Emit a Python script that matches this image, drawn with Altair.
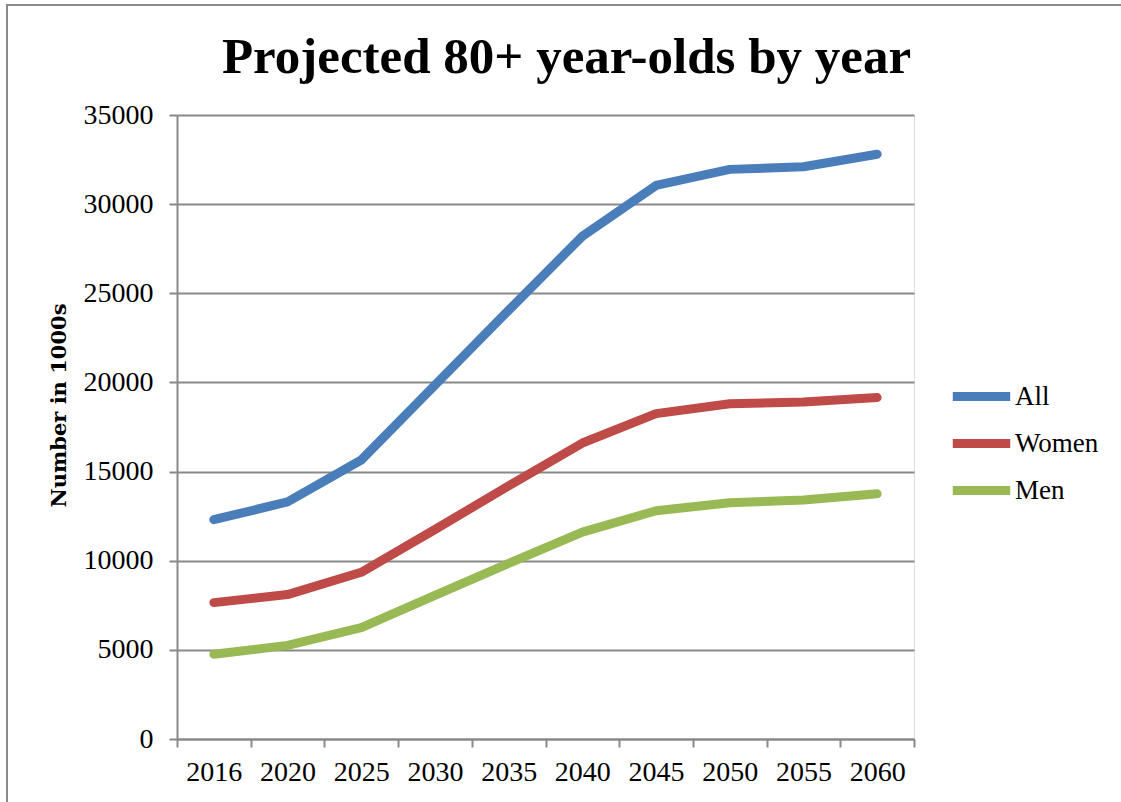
import altair as alt
import pandas as pd

years = ["2016", "2020", "2025", "2030", "2035", "2040", "2045", "2050", "2055", "2060"]
all_values = [12300, 13300, 15650, 19850, 24050, 28200, 31050, 31950, 32100, 32800]
women_values = [7650, 8100, 9350, 11750, 14200, 16600, 18250, 18800, 18900, 19150]
men_values = [4750, 5250, 6250, 8050, 9850, 11600, 12800, 13250, 13400, 13750]
series_names = ["All", "Women", "Men"]
series_colors = ["#4A7EBB", "#BE4B48", "#98B954"]
y_ticks = [0, 5000, 10000, 15000, 20000, 25000, 30000, 35000]

rows = []
for name, vals in zip(series_names, [all_values, women_values, men_values]):
    for yr, v in zip(years, vals):
        rows.append({"year": yr, "value": v, "series": name})
df = pd.DataFrame(rows)

GRID = "#898989"
SERIF = "Liberation Serif"

lines = alt.Chart(df).mark_line(strokeWidth=9, strokeCap="round", strokeJoin="round").encode(
    x=alt.X(
        "year:O",
        sort=years,
        bandPosition=0.5,
        scale=alt.Scale(type="band", paddingInner=0, paddingOuter=0),
        axis=alt.Axis(
            title=None,
            tickBand="extent",
            labelAngle=0,
            labelFont=SERIF,
            labelFontSize=28,
            labelColor="black",
            labelPadding=11,
            tickSize=8,
            tickColor=GRID,
            tickWidth=2,
            domainColor=GRID,
            domainWidth=2,
            grid=False,
        ),
    ),
    y=alt.Y(
        "value:Q",
        scale=alt.Scale(domain=[0, 35000], nice=False),
        axis=alt.Axis(
            title="Number in 1000s",
            titleFont="DejaVu Serif",
            titleFontSize=21,
            titleFontWeight="bold",
            titleColor="black",
            titlePadding=14,
            titleY=290,
            values=y_ticks,
            format="d",
            labelFont=SERIF,
            labelFontSize=28,
            labelColor="black",
            labelPadding=16,
            tickSize=8,
            tickColor=GRID,
            tickWidth=2,
            domainColor=GRID,
            domainWidth=2,
            grid=True,
            gridColor=GRID,
            gridWidth=2,
        ),
    ),
    color=alt.Color(
        "series:N",
        sort=series_names,
        scale=alt.Scale(domain=series_names, range=series_colors),
        legend=alt.Legend(
            title=None,
            orient="none",
            legendX=771,
            legendY=258,
            symbolType="stroke",
            symbolStrokeWidth=9,
            symbolSize=3300,
            clipHeight=47,
            labelFont=SERIF,
            labelFontSize=27,
            labelColor="black",
            labelOffset=0,
            rowPadding=0,
        ),
    ),
)

frame_df = pd.DataFrame({"k": [0]})
frame_top = alt.Chart(frame_df).mark_rule(color=GRID, strokeWidth=2).encode(
    x=alt.value(-171), x2=alt.value(944), y=alt.value(-110)
)
frame_left = alt.Chart(frame_df).mark_rule(color=GRID, strokeWidth=2).encode(
    x=alt.value(-170), y=alt.value(-110), y2=alt.value(690)
)

chart = alt.layer(frame_top, frame_left, lines).properties(
    width=737,
    height=624,
    padding={"left": 177, "top": 115, "right": 207, "bottom": 63},
    autosize=alt.AutoSizeParams(type="none"),
    title=alt.TitleParams(
        "Projected 80+ year-olds by year",
        font=SERIF,
        fontSize=51,
        fontWeight="bold",
        color="black",
        anchor="middle",
        dx=21,
        offset=-120,
        baseline="alphabetic",
    ),
).configure_view(stroke=None).configure(background="white")

chart.save("out.html", embed_options={"renderer": "svg", "actions": False})
